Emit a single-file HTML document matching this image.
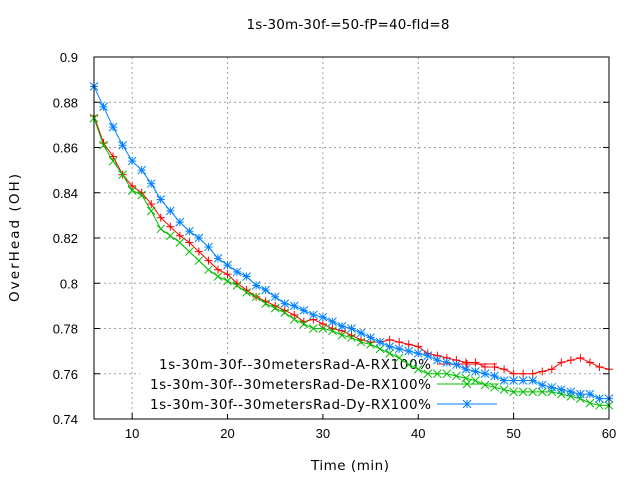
<!DOCTYPE html>
<html><head><meta charset="utf-8"><style>
body{margin:0;background:#fff}
svg{display:block;font-family:"Liberation Sans",sans-serif}
.w{font-family:"DejaVu Sans",sans-serif}
</style></head><body>
<svg id="c" width="640" height="480" xmlns="http://www.w3.org/2000/svg"></svg>
<script>
const xs=[6,7,8,9,10,11,12,13,14,15,16,17,18,19,20,21,22,23,24,25,26,27,28,29,30,31,32,33,34,35,36,37,38,39,40,41,42,43,44,45,46,47,48,49,50,51,52,53,54,55,56,57,58,59,60];
const seriesA=[.874,.862,.856,.848,.843,.840,.835,.829,.825,.821,.818,.814,.810,.806,.804,.800,.797,.794,.792,.790,.788,.786,.783,.784,.782,.780,.779,.777,.775,.774,.774,.775,.774,.773,.772,.769,.768,.767,.766,.765,.765,.763,.763,.762,.760,.760,.760,.761,.762,.765,.766,.767,.765,.763,.762];
const seriesDe=[.873,.861,.854,.848,.841,.839,.832,.824,.821,.818,.814,.810,.806,.803,.801,.799,.796,.794,.791,.789,.787,.784,.782,.780,.780,.779,.777,.776,.774,.773,.771,.769,.767,.764,.762,.760,.760,.760,.759,.758,.757,.755,.754,.753,.752,.752,.752,.752,.752,.751,.750,.749,.747,.746,.746];
const seriesDy=[.887,.878,.869,.861,.854,.850,.844,.837,.832,.827,.823,.820,.816,.811,.808,.805,.803,.799,.797,.794,.791,.790,.788,.786,.785,.783,.781,.780,.778,.776,.774,.772,.771,.770,.769,.768,.766,.765,.764,.762,.761,.760,.759,.757,.757,.757,.757,.755,.754,.753,.752,.751,.751,.749,.749];
const xTicks=[10,20,30,40,50,60];
const yTicks=[0.74,0.76,0.78,0.8,0.82,0.84,0.86,0.88,0.9];
const yLabels=["0.74","0.76","0.78","0.8","0.82","0.84","0.86","0.88","0.9"];
const names=["1s-30m-30f--30metersRad-A-RX100%","1s-30m-30f--30metersRad-De-RX100%","1s-30m-30f--30metersRad-Dy-RX100%"];
const L=94,R=609,T=57,B=419,X0=6,X1=60,Y0=0.74,Y1=0.9;
const sx=v=>L+(v-X0)/(X1-X0)*(R-L);
const sy=v=>B-(v-Y0)/(Y1-Y0)*(B-T);
const svg=document.getElementById('c');
const NS="http://www.w3.org/2000/svg";
function el(t,a,p){const e=document.createElementNS(NS,t);for(const k in a)e.setAttribute(k,a[k]);(p||svg).appendChild(e);return e;}
xTicks.forEach(v=>{const g=el('line',{x1:sx(v),x2:sx(v),y1:T,y2:B,stroke:'#a0a0a0','stroke-dasharray':'2,3'});


const t=el('line',{x1:sx(v),x2:sx(v),y1:B,y2:B-6,stroke:'#000'});


const l=el('text',{x:sx(v),y:B+19,'text-anchor':'middle','font-size':13});l.textContent=v;

});
yTicks.forEach((v,i)=>{const g=el('line',{x1:L,x2:R,y1:sy(v),y2:sy(v),stroke:'#a0a0a0','stroke-dasharray':'2,3'});


el('line',{x1:L,x2:L+6,y1:sy(v),y2:sy(v),stroke:'#000'});
el('line',{x1:R,x2:R-6,y1:sy(v),y2:sy(v),stroke:'#000'});
const l=el('text',{x:L-16,y:sy(v)+5,'text-anchor':'end','font-size':13});l.textContent=yLabels[i];

});
const lb=el('rect',{x:140,y:354,width:365,height:60,fill:'#fff'});


const colors=['#ff0000','#00c000','#0080ff'];
function marker(k,x,y,g){const s=4;const c=colors[k];
 if(k===0||k===2){el('line',{x1:x-s,x2:x+s,y1:y,y2:y,stroke:c},g);el('line',{x1:x,x2:x,y1:y-s,y2:y+s,stroke:c},g);}
 if(k===1||k===2){el('line',{x1:x-s,x2:x+s,y1:y-s,y2:y+s,stroke:c},g);el('line',{x1:x-s,x2:x+s,y1:y+s,y2:y-s,stroke:c},g);}}
[seriesA,seriesDe,seriesDy].forEach((ser,k)=>{
 const g=el('g',{});
 
 
 el('polyline',{points:ser.map((v,i)=>sx(xs[i])+','+sy(v)).join(' '),fill:'none',stroke:colors[k],'stroke-width':1},g);
 ser.forEach((v,i)=>marker(k,sx(xs[i]),sy(v),g));
 const ly=364+k*20;
 const lt=el('text',{x:431,y:ly+5,'text-anchor':'end','font-size':13.5,class:'w',textLength:[272,281,281][k]});lt.textContent=names[k];
 
 
 el('line',{x1:437,x2:497,y1:ly,y2:ly,stroke:colors[k]});
 marker(k,467,ly,svg);
});
const fr=el('rect',{x:L,y:T,width:R-L,height:B-T,fill:'none',stroke:'#000'});


const ti=el('text',{x:348,y:29,'text-anchor':'middle','font-size':13.5,class:'w',textLength:203});ti.textContent="1s-30m-30f-=50-fP=40-fId=8";


const xt=el('text',{x:350,y:470,'text-anchor':'middle','font-size':13.5,class:'w',textLength:78});xt.textContent="Time (min)";


const yt=el('text',{x:19,y:238,'text-anchor':'middle','font-size':13.5,class:'w',textLength:128,transform:'rotate(-90 19 238)'});yt.textContent="OverHead (OH)";


</script>
</body></html>
